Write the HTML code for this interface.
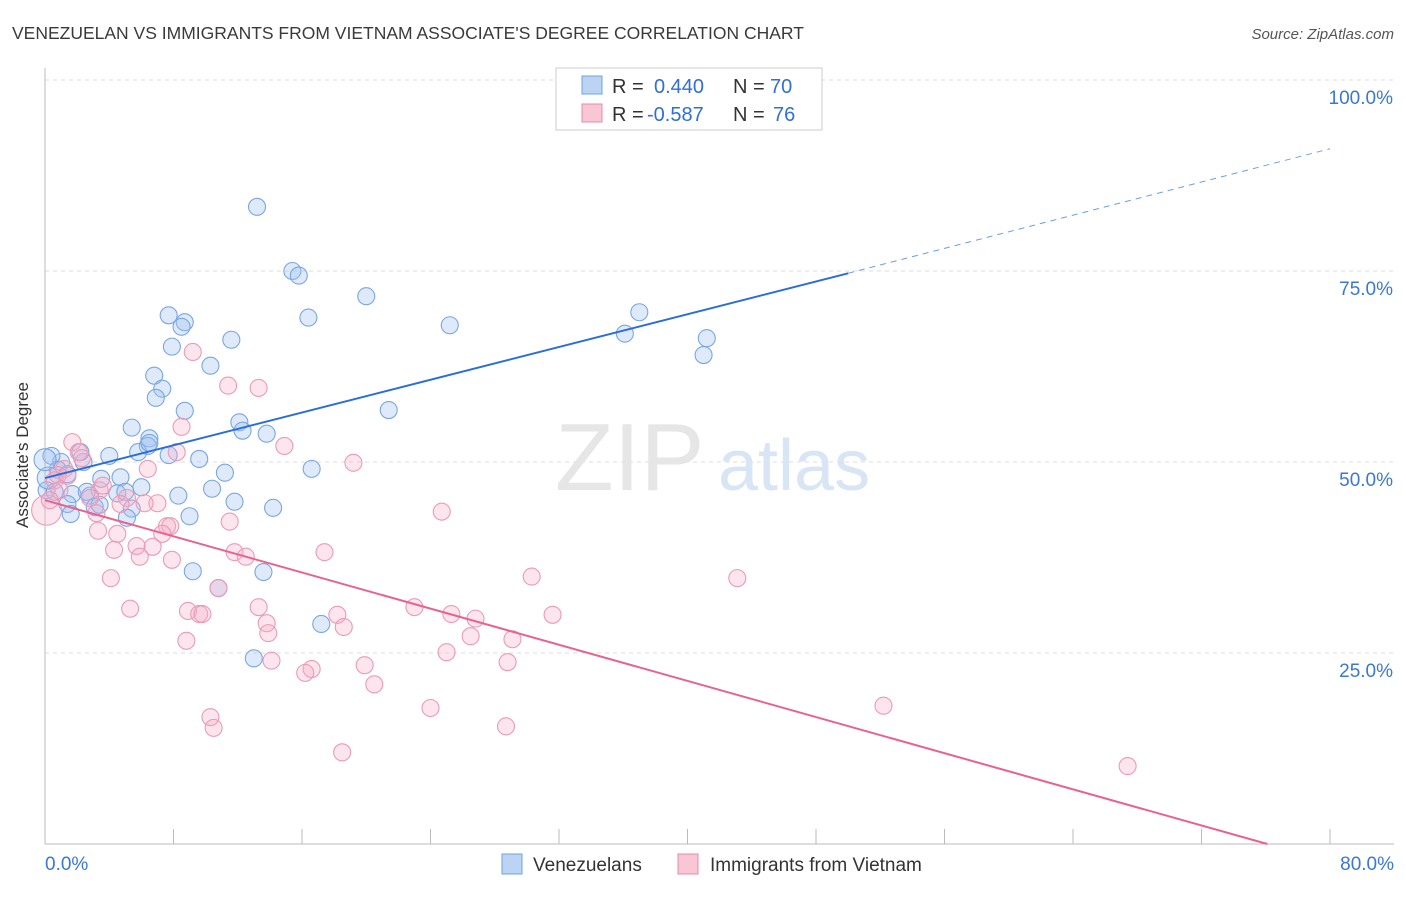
<!DOCTYPE html>
<html><head><meta charset="utf-8"><style>
body{margin:0;background:#fff;font-family:"Liberation Sans",sans-serif}
svg text{font-family:"Liberation Sans",sans-serif}
</style></head><body>
<svg id="chart" width="1406" height="892">
<text x="12" y="39" font-size="17.5" fill="#3a3a3a">VENEZUELAN VS IMMIGRANTS FROM VIETNAM ASSOCIATE'S DEGREE CORRELATION CHART</text>
<text x="1394" y="39" font-size="15" fill="#555" text-anchor="end" font-style="italic">Source: ZipAtlas.com</text>
<g id="grid"></g>
<text x="555" y="490" font-size="96" fill="#e6e6e6" font-family="Liberation Serif">ZIP</text>
<text x="718" y="490" font-size="72" fill="#d8e5f5">atlas</text>
<g id="marks"></g>
<text x="28" y="455" font-size="17" fill="#333" text-anchor="middle" transform="rotate(-90 28 455)">Associate's Degree</text>
<g>
<rect x="556" y="68" width="266" height="62" fill="#fff" stroke="#ccc"/>
<rect x="582" y="76" width="20" height="18" fill="#bcd4f4" stroke="#6f9fe0"/>
<rect x="582" y="104" width="20" height="18" fill="#f9c6d6" stroke="#e88aa8"/>
<text x="612" y="93" font-size="20" fill="#333">R = <tspan x="654" fill="#2f6fd6">0.440</tspan><tspan x="733">N =</tspan><tspan x="770" fill="#2f6fd6">70</tspan></text>
<text x="612" y="121" font-size="20" fill="#333">R = <tspan x="647" fill="#2f6fd6">-0.587</tspan><tspan x="733">N =</tspan><tspan x="773" fill="#2f6fd6">76</tspan></text>
</g>
<g>
<rect x="502" y="854" width="20" height="20" fill="#bcd4f4" stroke="#6f9fe0"/>
<text x="533" y="871" font-size="19" fill="#333">Venezuelans</text>
<rect x="678" y="854" width="20" height="20" fill="#f9c6d6" stroke="#e88aa8"/>
<text x="710" y="871" font-size="19" fill="#333">Immigrants from Vietnam</text>
</g>
</svg>
<script>
const blueX=[13.2,15.4,15.8,20.0,16.4,7.7,8.7,8.5,25.2,37.0,36.1,41.2,41.0,11.6,7.9,10.3,6.8,7.3,6.9,21.4,8.7,12.1,5.4,12.3,13.8,6.5,6.4,5.8,4.0,7.7,9.6,16.6,11.2,1.0,2.4,4.7,3.5,6.0,0.4,0.8,1.4,0.1,0.6,1.7,2.8,4.5,5.0,8.3,10.4,11.8,14.2,1.4,3.1,5.4,1.6,5.1,9.0,9.2,13.6,10.8,17.2,13.0,2.6,3.4,0.2,0.0,2.2,6.5];
const blueY=[83.4,75.0,74.4,71.7,68.9,69.2,68.3,67.7,67.9,69.6,66.8,66.2,64.0,66.0,65.1,62.6,61.3,59.6,58.4,56.8,56.7,55.2,54.5,54.1,53.7,53.1,52.1,51.3,50.8,50.9,50.4,49.1,48.6,50.0,50.0,48.0,47.8,46.7,50.8,49.0,48.4,46.3,46.1,45.8,45.6,45.9,46.1,45.6,46.5,44.8,44.0,44.5,44.1,43.9,43.2,42.7,42.9,35.7,35.6,33.5,28.8,24.3,46.1,44.4,47.9,50.3,51.3,52.5];
const pinkX=[1.7,2.1,2.3,1.2,0.8,0.6,0.9,9.2,11.4,13.3,8.2,8.5,14.9,19.2,6.4,3.4,2.8,5.1,4.7,7.0,6.2,3.2,24.7,11.5,7.6,7.8,7.3,3.3,4.5,5.7,6.7,4.3,5.9,11.8,12.5,17.4,7.9,4.1,30.3,43.1,5.3,8.9,9.6,9.8,13.3,23.0,25.3,26.8,31.6,18.2,18.6,13.8,13.9,26.5,29.1,8.8,25.0,10.8,19.9,16.6,14.1,16.2,28.8,20.5,52.2,24.0,10.3,10.5,28.7,18.5,67.4,0.1,0.3,1.4,3.6];
const pinkY=[52.6,51.3,50.5,49.1,48.3,47.6,46.3,64.4,60.0,59.7,51.3,54.6,52.1,49.9,49.1,46.3,45.3,45.3,44.5,44.6,44.6,43.3,43.5,42.2,41.6,41.6,40.6,41.0,40.6,39.0,38.9,38.5,37.6,38.2,37.6,38.2,37.2,34.8,35.0,34.8,30.8,30.5,30.1,30.1,31.0,31.0,30.1,29.5,30.0,30.0,28.4,28.9,27.6,27.2,26.8,26.6,25.1,33.5,23.4,22.9,24.0,22.4,23.8,20.9,18.1,17.8,16.6,15.2,15.4,12.0,10.2,43.7,45.0,48.2,46.9];
const blueTrend=[47.9,74.7,91.0]; // y at x=0, x=50 (solid end), x=80
const pinkTrend=[45.0,76.1]; // y at x=0, x-intercept
const yTicks=[25,50,75,100];
const yTickLabels=["25.0%","50.0%","75.0%","100.0%"];
const xTicks=[0,8,16,24,32,40,48,56,64,72,80];

const NS="http://www.w3.org/2000/svg";
const X=v=>45+v/80*1285;
const Y=v=>844-v/25*191;
function mk(tag,attrs,parent){const e=document.createElementNS(NS,tag);for(const k in attrs)e.setAttribute(k,attrs[k]);parent.appendChild(e);return e;}
const grid=document.getElementById('grid');
const marks=document.getElementById('marks');
yTicks.forEach((t,i)=>{
  const l=mk('line',{x1:45,x2:1394,y1:Y(t),y2:Y(t),stroke:'#ddd','stroke-dasharray':'4,4'},grid);
  
  
  const tx=mk('text',{x:1393,y:Y(t)+24,'font-size':19,fill:'#3a78d4','text-anchor':'end'},grid);
  tx.textContent=yTickLabels[i];
  
  
});
const yAxis=mk('line',{x1:45,x2:45,y1:68,y2:844,stroke:'#bbb'},grid);


const xAxis=mk('line',{x1:45,x2:1394,y1:844,y2:844,stroke:'#bbb'},grid);


xTicks.forEach(t=>{
  const l=mk('line',{x1:X(t),x2:X(t),y1:829,y2:844,stroke:'#bbb'},grid);
  
  
});
const xl0=mk('text',{x:45,y:870,'font-size':19,fill:'#3a78d4'},grid);xl0.textContent='0.0%';


const xl1=mk('text',{x:1394,y:870,'font-size':19,fill:'#3a78d4','text-anchor':'end'},grid);xl1.textContent='80.0%';



blueX.forEach((v,i)=>{
  const c=mk('circle',{cx:X(v),cy:Y(blueY[i]),r:(i>=64&&i<=65)?11:8.5,fill:'rgba(160,195,240,0.35)',stroke:'#7aa6e4','stroke-width':1.1},marks);
  
  
});
pinkX.forEach((v,i)=>{
  const c=mk('circle',{cx:X(v),cy:Y(pinkY[i]),r:i==71?15:8.5,fill:'rgba(245,175,200,0.32)',stroke:'#ec9ab6','stroke-width':1.1},marks);
  
  
});
const bl=mk('line',{x1:X(0),y1:Y(blueTrend[0]),x2:X(50),y2:Y(blueTrend[1]),stroke:'#2a6fd6','stroke-width':2},marks);


const bd=mk('line',{x1:X(50),y1:Y(blueTrend[1]),x2:X(80),y2:Y(blueTrend[2]),stroke:'#6f9fe0','stroke-width':1,'stroke-dasharray':'6,5'},marks);


const pl=mk('line',{x1:X(0),y1:Y(pinkTrend[0]),x2:X(pinkTrend[1]),y2:Y(0),stroke:'#e8628f','stroke-width':2},marks);


</script>
</body></html>
